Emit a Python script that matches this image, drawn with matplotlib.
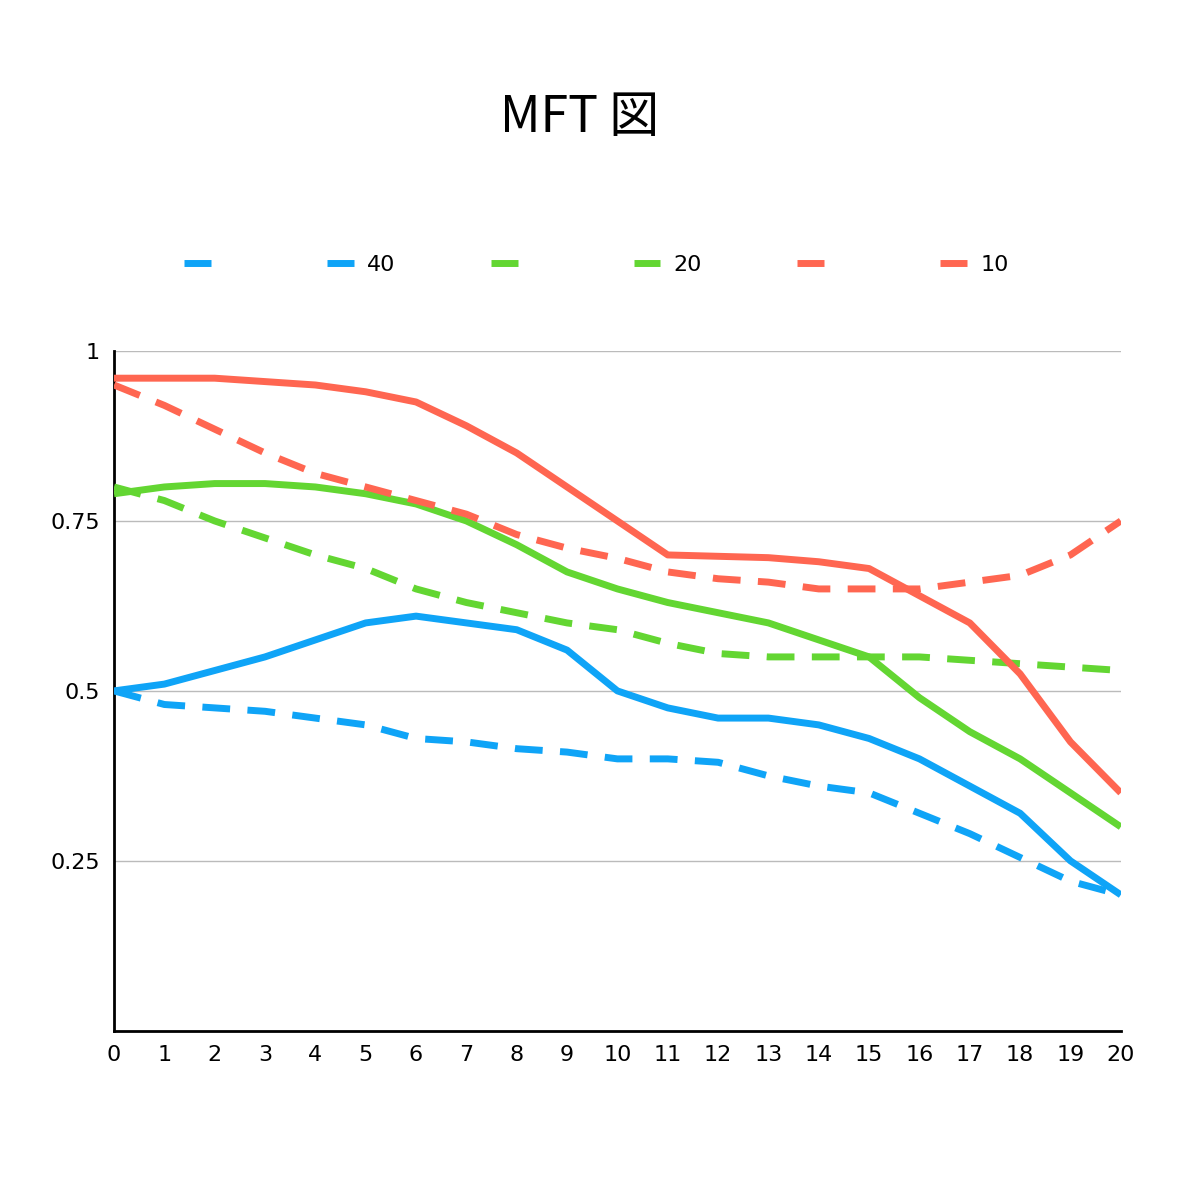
import matplotlib
matplotlib.use("Agg")
import matplotlib.pyplot as plt

x = list(range(21))
blue_dash = [0.50,0.48,0.475,0.47,0.46,0.45,0.43,0.425,0.415,0.41,0.40,0.40,0.395,0.375,0.36,0.35,0.32,0.29,0.255,0.22,0.20]
blue_40 = [0.50,0.51,0.53,0.55,0.575,0.60,0.61,0.60,0.59,0.56,0.50,0.475,0.46,0.46,0.45,0.43,0.40,0.36,0.32,0.25,0.20]
green_dash = [0.80,0.78,0.75,0.725,0.70,0.68,0.65,0.63,0.615,0.60,0.59,0.57,0.555,0.55,0.55,0.55,0.55,0.545,0.54,0.535,0.53]
green_20 = [0.79,0.80,0.805,0.805,0.80,0.79,0.775,0.75,0.715,0.675,0.65,0.63,0.615,0.60,0.575,0.55,0.49,0.44,0.40,0.35,0.30]
red_dash = [0.95,0.92,0.885,0.85,0.82,0.80,0.78,0.76,0.73,0.71,0.695,0.675,0.665,0.66,0.65,0.65,0.65,0.66,0.67,0.70,0.75]
red_10 = [0.96,0.96,0.96,0.955,0.95,0.94,0.925,0.89,0.85,0.8,0.75,0.70,0.698,0.696,0.69,0.68,0.64,0.60,0.525,0.425,0.35]
labels = [" ", "40", " ", "20", " ", "10"]
yticks = [0.25, 0.5, 0.75, 1]

BLUE, GREEN, RED = "#0FA4F7", "#63D632", "#FF6651"
fig = plt.figure(figsize=(12, 12), dpi=100)
ax = fig.add_axes([0.095, 0.141, 0.839, 0.5665])
lw = 5
series = [(blue_dash, BLUE, True), (blue_40, BLUE, False), (green_dash, GREEN, True),
          (green_20, GREEN, False), (red_dash, RED, True), (red_10, RED, False)]
handles = []
for (ys, c, d), lab in zip(series, labels):
    h, = ax.plot(x, ys, color=c, lw=lw, label=lab, solid_capstyle='butt',
                 linestyle=(0, (4, 2.5)) if d else '-', zorder=3)
    handles.append(h)
ax.set_xlim(0, 20)
ax.set_ylim(0, 1)
ax.set_xticks(x)
ax.set_yticks(yticks)
ax.set_yticklabels(["0.25", "0.5", "0.75", "1"])
ax.tick_params(length=0, labelsize=16, pad=10)
ax.grid(axis='y', color='#BBBBBB', lw=1)
for s in ['top', 'right']:
    ax.spines[s].set_visible(False)
for s in ['left', 'bottom']:
    ax.spines[s].set_linewidth(2)
fig.text(0.483, 0.902, "MFT 図", ha='center', va='center', fontsize=36, family="Noto Sans CJK JP")
fig.legend(handles=handles, loc='center', bbox_to_anchor=(0.497, 0.779), ncol=6, frameon=False,
           fontsize=16, handlelength=1.2, handletextpad=0.6, columnspacing=4.3)
fig.savefig("out.png")
